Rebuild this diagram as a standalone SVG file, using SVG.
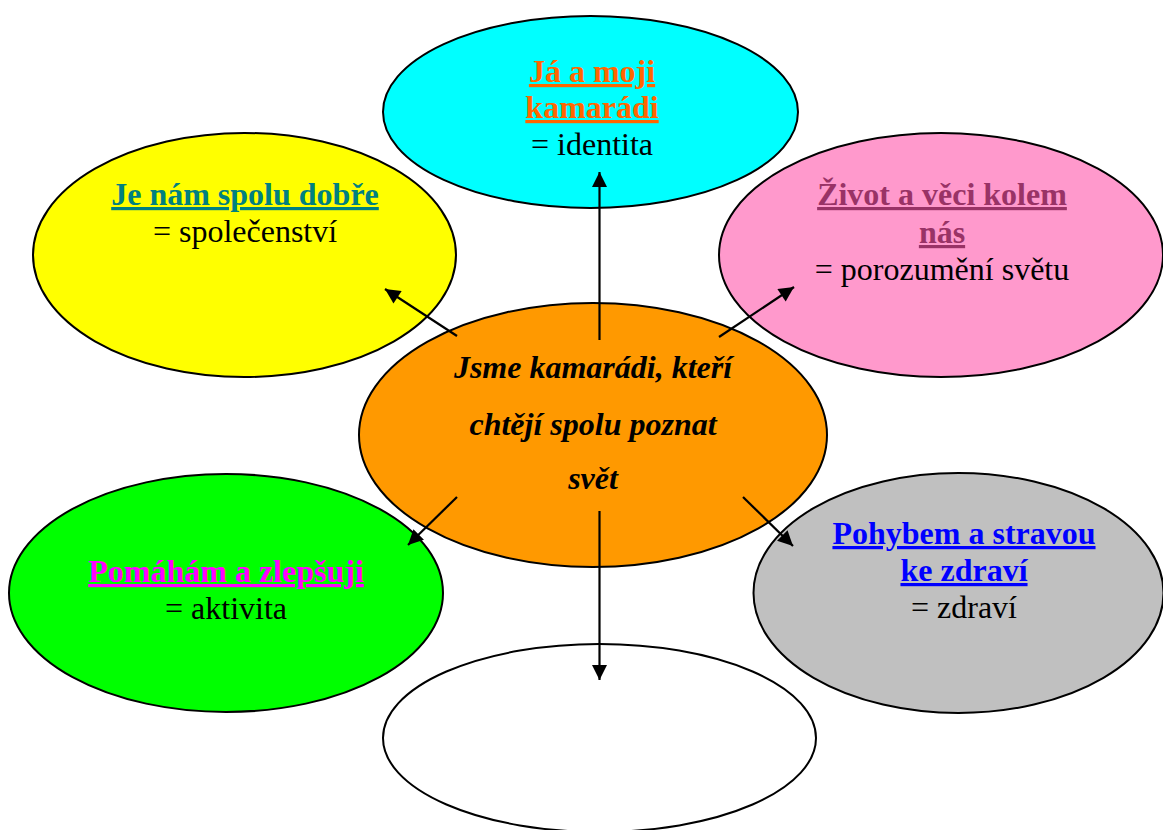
<svg xmlns="http://www.w3.org/2000/svg" width="1163" height="830" viewBox="0 0 1163 830">
<style>
.node{stroke:#000;stroke-width:2}
.t{font-family:"Liberation Serif","Times New Roman",serif;font-size:32px;text-anchor:middle}
.h{font-weight:bold;text-decoration:underline;text-decoration-thickness:3px}
.c{font-weight:bold;font-style:italic;fill:#000}
.conn line{stroke:#000;stroke-width:2.2;marker-end:url(#ah)}
</style>
<defs>
<marker id="ah" markerUnits="userSpaceOnUse" viewBox="0 0 10 10" refX="10" refY="5" markerWidth="16" markerHeight="15" orient="auto">
<path d="M0,0 L10,5 L0,10 z" fill="#000"/>
</marker>
</defs>
<rect width="1163" height="830" fill="#fff"/>
<g id="n-identita">
<ellipse class="node" cx="590.5" cy="112" rx="207.5" ry="96" fill="#00FFFF"/>
<text class="t h" x="592" y="82" fill="#FF6600">Já a moji</text>
<text class="t h" x="592" y="118" fill="#FF6600">kamarádi</text>
<text class="t" x="592" y="155" fill="#000">= identita</text>
</g>
<g id="n-spolecenstvi">
<ellipse class="node" cx="244.5" cy="255" rx="211.5" ry="122" fill="#FFFF00"/>
<text class="t h" x="245" y="205" fill="#008080">Je nám spolu dobře</text>
<text class="t" x="245" y="242" fill="#000">= společenství</text>
</g>
<g id="n-svet">
<ellipse class="node" cx="941" cy="255" rx="222" ry="122" fill="#FF99CC"/>
<text class="t h" x="942" y="205" fill="#993366">Život a věci kolem</text>
<text class="t h" x="942" y="243" fill="#993366">nás</text>
<text class="t" x="942" y="280" fill="#000">= porozumění světu</text>
</g>
<g id="n-aktivita">
<ellipse class="node" cx="226" cy="593" rx="217" ry="119" fill="#00FF00"/>
<text class="t h" x="226" y="582" fill="#FF00FF">Pomáhám a zlepšuji</text>
<text class="t" x="226" y="619" fill="#000">= aktivita</text>
</g>
<g id="n-zdravi">
<ellipse class="node" cx="958.5" cy="593" rx="205" ry="120" fill="#C0C0C0"/>
<text class="t h" x="964" y="544" fill="#0000FF">Pohybem a stravou</text>
<text class="t h" x="964" y="581" fill="#0000FF">ke zdraví</text>
<text class="t" x="964" y="618" fill="#000">= zdraví</text>
</g>
<g id="n-empty">
<ellipse class="node" cx="599.5" cy="738" rx="216.5" ry="94" fill="#FFFFFF"/>
</g>
<g id="n-center">
<ellipse class="node" cx="593" cy="435" rx="234" ry="132" fill="#FF9900"/>
<text class="t c" x="593" y="378">Jsme kamarádi, kteří</text>
<text class="t c" x="593" y="435">chtějí spolu poznat</text>
<text class="t c" x="593" y="489">svět</text>
</g>
<g id="connectors" class="conn">
<line x1="599.5" y1="340" x2="599.5" y2="172"/>
<line x1="457" y1="336" x2="385" y2="289"/>
<line x1="719" y1="337" x2="794" y2="287"/>
<line x1="457" y1="497" x2="408" y2="545"/>
<line x1="743" y1="497" x2="793" y2="546"/>
<line x1="599.5" y1="511" x2="599.5" y2="680"/>
</g>
</svg>
